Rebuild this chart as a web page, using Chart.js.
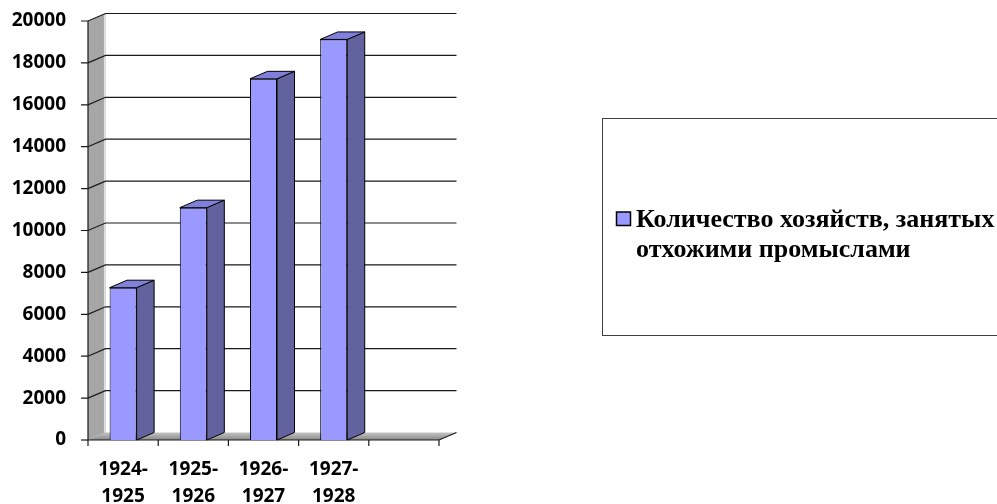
<!DOCTYPE html>
<html>
<head>
<meta charset="utf-8">
<script src="https://cdn.jsdelivr.net/npm/chart.js@4.4.1/dist/chart.umd.min.js"></script>
<style>
  body { margin: 0; background: #fff; }
  canvas { display: block; }
</style>
</head>
<body>
<canvas id="farmsChart" width="997" height="504"></canvas>
<script>
// data
const categories = [["1924-", "1925"], ["1925-", "1926"], ["1926-", "1927"], ["1927-", "1928"], ""];
const farmCounts = [7270, 11090, 17240, 19120, null];
const yTicks = [0, 2000, 4000, 6000, 8000, 10000, 12000, 14000, 16000, 18000, 20000];
const legendLines = ["Количество хозяйств, занятых", "отхожими промыслами"];

// 3d look: depth of the walls and bars
const DX = 17.5, DY = 7.5;

const tickFont = { family: "'Open Sans', sans-serif", size: 19, weight: "bold" };

const walls3d = {
    id: "walls3d",
    beforeDatasetsDraw(chart) {
        const ctx = chart.ctx;
        const a = chart.chartArea;
        const y = chart.scales.y;
        const L = a.left, R = a.right, B = y.getPixelForValue(0), T = y.getPixelForValue(20000);
        ctx.save();

        // left wall
        ctx.fillStyle = "#a6a6a6";
        ctx.beginPath();
        ctx.moveTo(L, T); ctx.lineTo(L + DX, T - DY); ctx.lineTo(L + DX, B - DY); ctx.lineTo(L, B);
        ctx.closePath(); ctx.fill();
        ctx.strokeStyle = "#e0e0e0"; ctx.lineWidth = 1.5;
        ctx.beginPath(); ctx.moveTo(L + DX - 0.8, T - DY + 1); ctx.lineTo(L + DX - 0.8, B - DY); ctx.stroke();

        // floor
        const g = ctx.createLinearGradient(0, B - DY, 0, B);
        g.addColorStop(0, "#c4c4c4");
        g.addColorStop(1, "#8a8a8a");
        ctx.fillStyle = g;
        ctx.beginPath();
        ctx.moveTo(L, B); ctx.lineTo(L + DX, B - DY); ctx.lineTo(R + DX, B - DY); ctx.lineTo(R, B);
        ctx.closePath(); ctx.fill();

        // gridlines on back wall + side wall, tick marks
        ctx.strokeStyle = "#1a1a1a"; ctx.lineWidth = 1.2;
        yTicks.forEach(v => {
            const py = y.getPixelForValue(v);
            ctx.beginPath();
            ctx.moveTo(L - 7, py); ctx.lineTo(L, py);
            if (v > 0) {
                ctx.lineTo(L + DX, py - DY);
                ctx.lineTo(R + DX, py - DY);
            }
            ctx.stroke();
        });

        // axes
        ctx.beginPath();
        ctx.moveTo(L, T); ctx.lineTo(L, B); ctx.lineTo(R, B); ctx.lineTo(R + DX, B - DY);
        ctx.stroke();
        const step = (R - L) / categories.length;
        for (let i = 0; i <= categories.length; i++) {
            const px = L + i * step;
            ctx.beginPath(); ctx.moveTo(px, B); ctx.lineTo(px, B + 6); ctx.stroke();
        }
        ctx.restore();
    },
    afterDatasetsDraw(chart) {
        const ctx = chart.ctx;
        const meta = chart.getDatasetMeta(0);
        ctx.save();
        ctx.strokeStyle = "#000"; ctx.lineWidth = 1; ctx.lineJoin = "round";
        meta.data.forEach((bar, i) => {
            if (farmCounts[i] == null) return;
            const p = bar.getProps(["x", "y", "base", "width"], true);
            const l = p.x - p.width / 2, r = p.x + p.width / 2;
            // side
            ctx.fillStyle = "#62629e";
            ctx.beginPath();
            ctx.moveTo(r, p.y); ctx.lineTo(r + DX, p.y - DY); ctx.lineTo(r + DX, p.base - DY); ctx.lineTo(r, p.base);
            ctx.closePath(); ctx.fill(); ctx.stroke();
            // top
            ctx.fillStyle = "#7f7fdc";
            ctx.beginPath();
            ctx.moveTo(l, p.y); ctx.lineTo(l + DX, p.y - DY); ctx.lineTo(r + DX, p.y - DY); ctx.lineTo(r, p.y);
            ctx.closePath(); ctx.fill(); ctx.stroke();
        });
        ctx.restore();
    }
};

const boxLegend = {
    id: "boxLegend",
    afterDraw(chart) {
        const ctx = chart.ctx;
        const ds = chart.data.datasets[0];
        ctx.save();
        ctx.strokeStyle = "#404040"; ctx.lineWidth = 1;
        ctx.strokeRect(602.5, 118.5, 420, 217);
        ctx.fillStyle = ds.backgroundColor;
        ctx.fillRect(616.5, 212, 14, 13.5);
        ctx.strokeStyle = "#000"; ctx.lineWidth = 1.5;
        ctx.strokeRect(616.5, 212, 14, 13.5);
        ctx.fillStyle = "#000";
        ctx.font = "bold 26px 'Liberation Serif', serif";
        ctx.textBaseline = "alphabetic";
        legendLines.forEach((t, i) => ctx.fillText(t, 636, 227 + i * 30));
        ctx.restore();
    }
};

new Chart(document.getElementById("farmsChart").getContext("2d"), {
    type: "bar",
    data: {
        labels: categories,
        datasets: [{
            label: legendLines.join(" "),
            data: farmCounts,
            backgroundColor: "#9999ff",
            borderColor: "#000",
            borderWidth: 1,
            barPercentage: 0.385,
            categoryPercentage: 1
        }]
    },
    options: {
        responsive: false,
        animation: false,
        layout: { padding: { top: 21, right: 558, left: 0, bottom: 0 } },
        plugins: { legend: { display: false }, tooltip: { enabled: false } },
        scales: {
            x: {
                grid: { display: false, drawTicks: false },
                border: { display: false },
                ticks: { font: Object.assign({ lineHeight: 1.42 }, tickFont), color: "#000", padding: 16, maxRotation: 0, autoSkip: false },
                afterFit: s => { s.height = 64; s.paddingLeft = 0; s.paddingRight = 0; }
            },
            y: {
                min: 0, max: 20000,
                grid: { display: false, drawTicks: false },
                border: { display: false },
                ticks: { stepSize: 2000, font: tickFont, color: "#000", padding: 22, callback: v => String(v) },
                afterFit: s => { s.width = 88; s.paddingTop = 0; s.paddingBottom = 0; }
            }
        }
    },
    plugins: [walls3d, boxLegend]
});
</script>
</body>
</html>
